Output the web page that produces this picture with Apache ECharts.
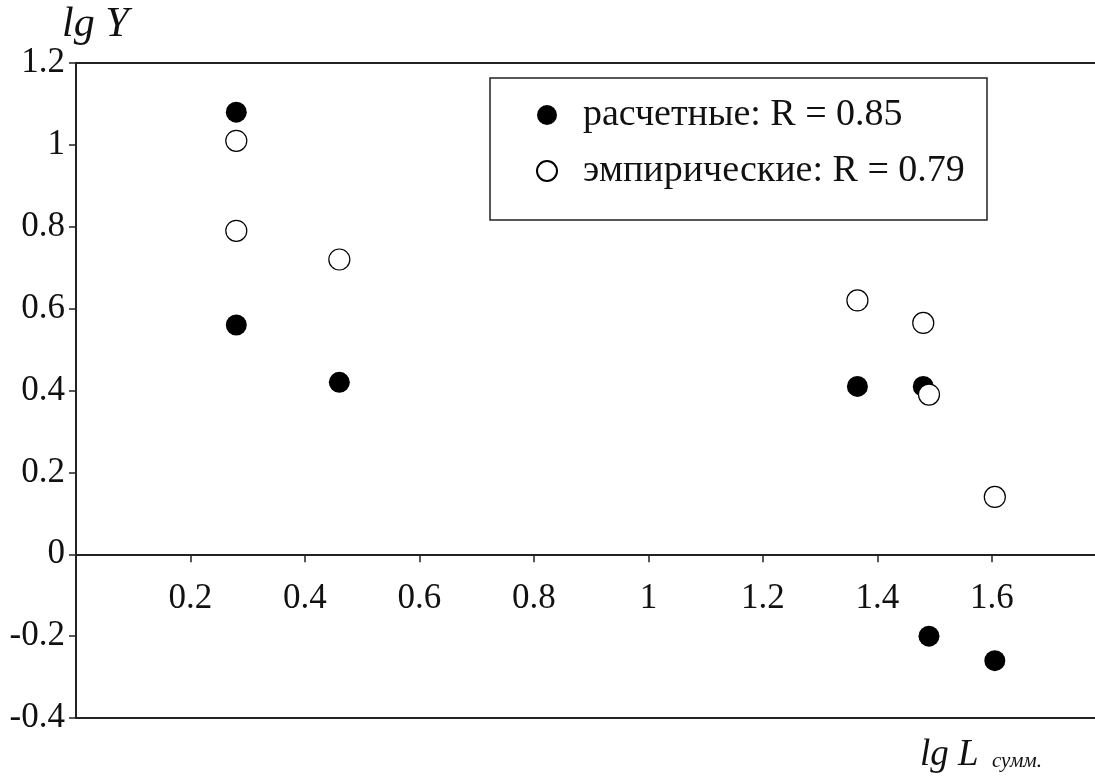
<!DOCTYPE html>
<html>
<head>
<meta charset="utf-8">
<script src="https://cdn.jsdelivr.net/npm/echarts@6/dist/echarts.min.js"></script>
<style>
html, body { margin: 0; background: #fff; }
#chart { width: 1095px; height: 784px; }
</style>
</head>
<body>
<div id="chart"></div>
<script>
// lg L сумм. (x) vs lg Y (y)
const calcX = [0.28, 0.28, 0.46, 1.365, 1.48, 1.49, 1.605];
const calcY = [1.08, 0.56, 0.42, 0.41, 0.41, -0.20, -0.26];
const empX = [0.28, 0.28, 0.46, 1.365, 1.48, 1.49, 1.605];
const empY = [1.01, 0.79, 0.72, 0.62, 0.565, 0.39, 0.14];
const seriesNames = ['расчетные: R = 0.85', 'эмпирические: R = 0.79'];

const serif = '"Liberation Serif", "Times New Roman", serif';
const ink = '#222';
const X_MIN = 0, X_MAX = 1.78;

const chart = echarts.init(document.getElementById('chart'));

const pairs = (xs, ys) => xs.map((x, i) => [x, ys[i]]);

// plain line used for the top and bottom frame edges
const frameAxis = position => ({
    type: 'value',
    position: position,
    min: X_MIN,
    max: X_MAX,
    axisLine: { onZero: false, lineStyle: { color: ink, width: 2 } },
    axisTick: { show: false },
    axisLabel: { show: false },
    splitLine: { show: false }
});

chart.setOption({
    animation: false,
    grid: {
        left: 76,
        top: 63,
        right: 0,
        bottom: 66
    },
    xAxis: [
        {
            type: 'value',
            min: X_MIN,
            max: X_MAX,
            interval: 0.2,
            axisLine: { onZero: true, lineStyle: { color: ink, width: 2 } },
            axisTick: { show: true, length: 8, lineStyle: { color: ink, width: 1.5 } },
            axisLabel: {
                // labels sit under the zero line, not under the frame
                margin: -137,
                color: '#111',
                fontFamily: serif,
                fontSize: 35,
                showMaxLabel: false,
                formatter: v => (v === 0 ? '' : String(+v.toFixed(1)))
            },
            splitLine: { show: false }
        },
        frameAxis('top'),
        frameAxis('bottom')
    ],
    yAxis: {
        type: 'value',
        min: -0.4,
        max: 1.2,
        interval: 0.2,
        name: 'lg Y',
        nameLocation: 'end',
        nameGap: 12,
        nameTextStyle: {
            fontFamily: serif,
            fontStyle: 'italic',
            fontSize: 42,
            color: '#111',
            align: 'left',
            padding: [0, 0, 0, -14]
        },
        axisLine: { onZero: false, lineStyle: { color: ink, width: 2 } },
        axisTick: { show: true, length: 7, lineStyle: { color: ink, width: 1.5 } },
        axisLabel: {
            margin: 11,
            color: '#111',
            fontFamily: serif,
            fontSize: 35,
            formatter: v => String(+v.toFixed(1))
        },
        splitLine: { show: false }
    },
    legend: {
        orient: 'vertical',
        left: 531,
        top: 91,
        z: 20,
        itemWidth: 20,
        itemHeight: 20,
        itemGap: 18,
        selectedMode: false,
        textStyle: {
            fontFamily: serif,
            fontSize: 38,
            color: '#111',
            padding: [0, 0, 0, 21]
        },
        data: seriesNames
    },
    graphic: [
        {
            type: 'rect',
            z: 1,
            shape: { x: 490, y: 78, width: 497, height: 142 },
            style: { fill: '#fff', stroke: ink, lineWidth: 1.5 }
        },
        {
            type: 'text',
            z: 60,
            left: 920,
            top: 737,
            style: {
                text: '{a|lg L} {b|сумм.}',
                rich: {
                    a: { fontFamily: serif, fontStyle: 'italic', fontSize: 37, fill: '#111' },
                    b: { fontFamily: serif, fontStyle: 'italic', fontSize: 21, fill: '#111', padding: [12, 0, 0, 10] }
                }
            }
        }
    ],
    series: [
        {
            name: seriesNames[0],
            type: 'scatter',
            symbol: 'circle',
            symbolSize: 21,
            itemStyle: { color: '#000', opacity: 1 },
            data: pairs(calcX, calcY)
        },
        {
            name: seriesNames[1],
            type: 'scatter',
            symbol: 'circle',
            symbolSize: 21,
            itemStyle: { color: '#fff', borderColor: '#000', borderWidth: 1.2, opacity: 1 },
            data: pairs(empX, empY)
        }
    ]
});
</script>
</body>
</html>
